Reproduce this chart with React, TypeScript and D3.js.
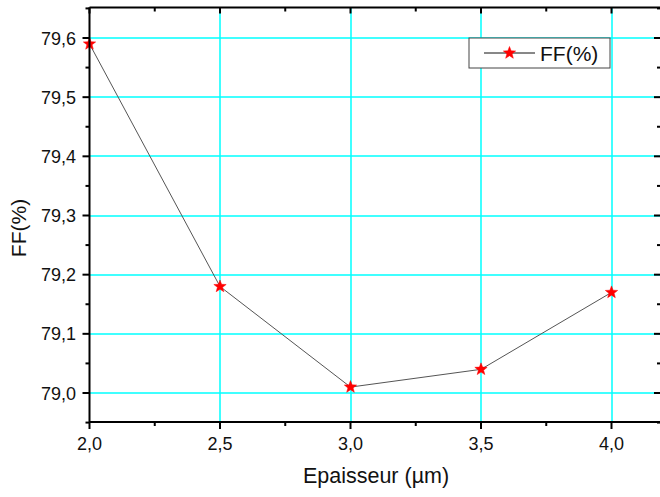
import React from "react";
import * as d3 from "d3";

const thickness = [2.0, 2.5, 3.0, 3.5, 4.0];
const ffValues = [79.59, 79.18, 79.01, 79.04, 79.17];
const xTicks = [2.0, 2.5, 3.0, 3.5, 4.0];
const yTicks = [79.0, 79.1, 79.2, 79.3, 79.4, 79.5, 79.6];
const xMinor = [2.25, 2.75, 3.25, 3.75];
const yMinor = [78.95, 79.05, 79.15, 79.25, 79.35, 79.45, 79.55, 79.65];
const seriesName = "FF(%)";
const xTitle = "Epaisseur (µm)";
const yTitle = "FF(%)";

const W = 660, H = 497;
const L = 89.5, R = 661, T = 7.5, B = 422;

const x = d3.scaleLinear().domain([2.0, 4.0]).range([L, L + 522]);
const y = d3.scaleLinear().domain([79.0, 79.6]).range([393, 38]);

const fmt = (v: number) => v.toFixed(1).replace(".", ",");
const px = (v: number) => Math.round(v);

function starPath(cx: number, cy: number, r: number) {
  const inner = r * 0.42;
  const pts: string[] = [];
  for (let i = 0; i < 10; i++) {
    const a = -Math.PI / 2 + (i * Math.PI) / 5;
    const rr = i % 2 === 0 ? r : inner;
    pts.push(`${cx + rr * Math.cos(a)},${cy + rr * Math.sin(a)}`);
  }
  return "M" + pts.join("L") + "Z";
}

export default function App() {
  const line = d3
    .line<number>()
    .x((_, i) => x(thickness[i]))
    .y((d) => y(d));
  const font = "Arial, 'Liberation Sans', sans-serif";
  const grid = "#00ffff";
  return (
    <svg width={W} height={H} style={{ position: "absolute", left: 0, top: 0, background: "#fff" }} fontFamily={font}>
      {/* grid */}
      {xTicks.filter((t) => t > 2.0).map((t) => (
        <line key={"gx" + t} x1={px(x(t))} x2={px(x(t))} y1={T} y2={B} stroke={grid} strokeWidth={1.5} />
      ))}
      {yTicks.map((t) => (
        <line key={"gy" + t} x1={L} x2={R} y1={px(y(t))} y2={px(y(t))} stroke={grid} strokeWidth={1.5} />
      ))}
      {/* data line */}
      <path d={line(ffValues) || ""} fill="none" stroke="#555" strokeWidth={1} />
      {ffValues.map((v, i) => (
        <path key={"m" + i} d={starPath(x(thickness[i]), y(v), 6.5)} fill="#ff0000" stroke="#ff0000" strokeWidth={0.5} />
      ))}
      {/* axes */}
      <line x1={L} x2={R} y1={B} y2={B} stroke="#000" strokeWidth={2} />
      <line x1={L} x2={R} y1={T} y2={T} stroke="#000" strokeWidth={2} />
      <line x1={L} x2={L} y1={T} y2={B} stroke="#000" strokeWidth={2} />
      <line x1={R} x2={R} y1={T} y2={B} stroke="#000" strokeWidth={2} />
      {/* bottom ticks */}
      {xTicks.map((t) => (
        <g key={"xt" + t}>
          <line x1={x(t)} x2={x(t)} y1={B} y2={B + 7} stroke="#000" strokeWidth={2} />
          <line x1={x(t)} x2={x(t)} y1={T} y2={T + 6} stroke="#000" strokeWidth={2} />
          <text x={x(t)} y={450} textAnchor="middle" fontSize={18} fill="#111">{fmt(t)}</text>
        </g>
      ))}
      {xMinor.map((t) => (
        <g key={"xm" + t}>
          <line x1={x(t)} x2={x(t)} y1={B} y2={B + 4} stroke="#000" strokeWidth={2} />
          <line x1={x(t)} x2={x(t)} y1={T} y2={T + 4} stroke="#000" strokeWidth={2} />
        </g>
      ))}
      {/* left ticks */}
      {yTicks.map((t) => (
        <g key={"yt" + t}>
          <line x1={L - 7} x2={L} y1={y(t)} y2={y(t)} stroke="#000" strokeWidth={2} />
          <line x1={R - 7} x2={R} y1={y(t)} y2={y(t)} stroke="#000" strokeWidth={2} />
          <text x={76} y={y(t) + 6.5} textAnchor="end" fontSize={18} fill="#111">{fmt(t)}</text>
        </g>
      ))}
      {yMinor.map((t) => (
        <g key={"ym" + t}>
          <line x1={L - 4} x2={L} y1={y(t)} y2={y(t)} stroke="#000" strokeWidth={2} />
          <line x1={R - 4} x2={R} y1={y(t)} y2={y(t)} stroke="#000" strokeWidth={2} />
        </g>
      ))}
      {/* titles */}
      <text x={376} y={483} textAnchor="middle" fontSize={21.5} fill="#111">{xTitle}</text>
      <text transform="translate(26,228) rotate(-90)" textAnchor="middle" fontSize={21} fill="#111">{yTitle}</text>
      {/* legend */}
      <rect x={469} y={38} width={141} height={30} fill="#fff" stroke="#444" strokeWidth={1} />
      <line x1={484} x2={535} y1={53} y2={53} stroke="#111" strokeWidth={1} />
      <path d={starPath(509.5, 53, 6.5)} fill="#ff0000" stroke="#ff0000" strokeWidth={0.5} />
      <text x={540} y={61} fontSize={21} fill="#111">{seriesName}</text>
    </svg>
  );
}
